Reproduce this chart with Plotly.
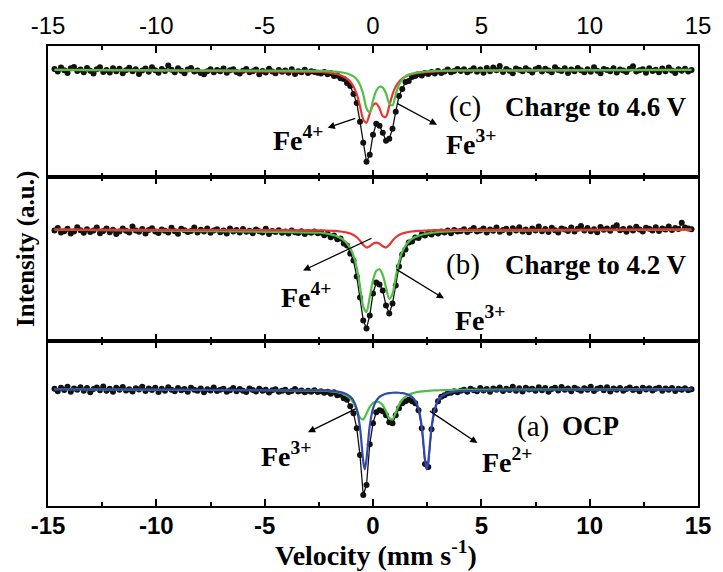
import numpy as np
import plotly.graph_objects as go

# Mössbauer channel velocities (mm/s)
VEL = np.linspace(-14.7, 14.7, 197)
# velocities at which the fitted sub-spectra are tabulated
FIT_V = np.linspace(-2.4, 3.9, 43)
EDGE_V = [-14.7, 14.7]

TICKS = [-15, -10, -5, 0, 5, 10, 15]
TICK_TEXT = ["-15", "-10", "-5", "0", "5", "10", "15"]
MINOR_TICKS = [-12.5, -7.5, -2.5, 2.5, 7.5, 12.5]

# (c) charged to 4.6 V - relative transmission (%)
TRANS_C = [
    100.05, 99.92, 100.12, 99.98, 99.85, 100.08, 100.15, 99.95, 100.02, 99.88,
    100.10, 99.96, 99.82, 100.04, 100.13, 99.90, 100.00, 99.87, 100.09, 99.94,
    100.06, 99.84, 99.99, 100.11, 99.93, 100.03, 99.80, 99.97, 100.07, 99.91,
    100.14, 99.98, 99.86, 100.05, 99.95, 100.22, 100.01, 99.89, 100.08, 99.96,
    99.83, 100.02, 100.10, 99.92, 99.97, 99.85, 99.78, 99.93, 100.04, 99.88,
    100.00, 99.94, 100.07, 99.86, 99.99, 100.03, 99.90, 99.82, 99.96, 100.05,
    99.89, 99.93, 100.02, 99.79, 99.95, 99.87, 100.06, 99.92, 99.84, 100.00,
    99.91, 99.97, 99.86, 100.03, 99.80, 99.94, 99.88, 100.01, 99.85, 99.93,
    99.90, 99.86,
    99.82, 99.90, 99.78, 99.85, 99.70, 99.72, 99.58, 99.55, 99.35, 99.20,
    98.80, 98.35, 97.40, 96.35, 95.40, 95.75, 96.75, 97.30, 97.20, 96.85,
    96.45, 96.55, 97.05, 97.90, 98.70, 99.05, 99.40, 99.45, 99.65, 99.70,
    99.80, 99.72, 99.85, 99.80, 99.90, 99.82, 99.95, 99.85, 99.92, 100.02,
    99.88, 99.95, 100.05,
    99.95, 100.04, 99.88, 99.97, 100.08, 99.91, 100.02, 99.86, 100.10, 99.94,
    100.12, 99.99, 100.20, 99.90, 100.05, 99.96, 99.84, 100.07, 100.01, 99.93,
    100.09, 99.98, 99.87, 100.03, 100.11, 99.92, 100.06, 99.97, 99.89, 100.14,
    100.00, 99.95, 100.08, 99.85, 100.02, 99.93, 100.10, 99.99, 99.88, 100.04,
    99.91, 100.13, 99.96, 99.83, 100.05, 100.00, 99.94, 100.09, 99.87, 100.02,
    99.97, 99.90, 100.06, 100.18, 99.92, 99.99, 100.04, 99.86, 100.08, 99.95,
    100.01, 99.89, 100.07, 99.93, 100.12, 99.97, 99.85, 100.03, 99.96, 100.06,
    99.92, 100.00,
]

# (b) charged to 4.2 V
TRANS_B = [
    99.95, 100.08, 99.86, 99.92, 100.04, 99.80, 99.90, 100.12, 99.97, 99.84,
    100.02, 99.88, 99.95, 100.10, 99.82, 99.93, 100.05, 99.87, 99.99, 99.78,
    99.91, 100.06, 99.94, 99.85, 100.15, 99.96, 99.89, 100.03, 99.81, 99.98,
    100.07, 99.90, 99.83, 100.01, 99.94, 99.86, 100.09, 99.92, 99.79, 100.04,
    99.97, 99.88, 99.93, 100.11, 99.85, 99.99, 99.90, 100.05, 99.84, 99.95,
    100.02, 99.87, 99.96, 99.80, 100.06, 99.91, 99.98, 99.85, 100.03, 99.89,
    99.94, 99.82, 100.00, 99.92, 99.86, 100.04, 99.78, 99.93, 99.88, 99.97,
    99.84, 99.91, 99.80, 99.95, 99.87, 99.83, 99.92, 99.78, 99.88, 99.84,
    99.90, 99.82,
    99.85, 99.72, 99.80, 99.62, 99.70, 99.52, 99.55, 99.30, 99.20, 98.80,
    98.45, 97.65, 96.60, 95.45, 95.05, 95.70, 96.80, 97.35, 97.25, 96.95,
    96.20, 95.80, 96.30, 97.20, 98.15, 98.75, 99.00, 99.35, 99.40, 99.60,
    99.58, 99.75, 99.70, 99.82, 99.75, 99.88, 99.80, 99.90, 99.85, 99.95,
    99.82, 99.98, 99.90,
    99.93, 100.02, 99.88, 99.97, 100.08, 99.90, 99.96, 100.05, 99.86, 100.01,
    99.94, 100.10, 99.89, 99.98, 100.04, 99.84, 100.07, 99.95, 100.12, 99.91,
    100.00, 99.87, 100.06, 99.96, 100.15, 99.92, 100.03, 99.88, 100.09, 99.97,
    99.85, 100.05, 100.01, 99.93, 100.11, 99.90, 100.04, 100.18, 99.96, 100.08,
    99.92, 100.02, 99.87, 100.13, 99.99, 100.06, 99.94, 100.10, 100.22, 99.97,
    100.03, 99.89, 100.07, 99.95, 100.14, 100.00, 99.91, 100.09, 100.04, 99.96,
    100.12, 99.93, 100.06, 100.01, 100.16, 99.98, 100.08, 100.03, 100.35, 100.10,
    100.05, 100.02,
]

# (a) open-circuit potential
TRANS_A = [
    100.02, 99.90, 100.08, 99.96, 100.12, 99.88, 100.04, 99.98, 100.10, 99.93,
    100.06, 99.85, 100.01, 100.09, 99.95, 100.14, 99.92, 100.03, 99.87, 100.07,
    99.97, 100.11, 99.94, 100.00, 99.89, 100.05, 99.99, 100.13, 99.91, 100.04,
    99.96, 100.08, 99.86, 100.02, 99.93, 100.10, 99.98, 99.90, 100.06, 99.95,
    100.01, 99.88, 100.07, 99.97, 99.92, 100.04, 99.85, 100.00, 99.94, 100.09,
    99.91, 99.98, 100.03, 99.87, 99.95, 100.06, 99.90, 100.01, 99.93, 99.86,
    100.04, 99.96, 99.89, 100.02, 99.92, 99.98, 99.84, 99.95, 100.00, 99.88,
    99.93, 99.97, 99.86, 99.91, 100.01, 99.89, 99.94, 99.85, 99.92, 99.88,
    99.95, 99.86,
    99.90, 99.82, 99.88, 99.78, 99.85, 99.70, 99.72, 99.55, 99.48, 99.15,
    98.80, 98.05, 96.70, 94.70, 95.20, 97.25, 98.30, 98.85, 98.95, 98.90,
    98.70, 98.35, 98.30, 98.70, 99.05, 99.30, 99.40, 99.48, 99.40, 99.30,
    98.95, 98.05, 96.25, 96.10, 98.00, 98.95, 99.40, 99.62, 99.70, 99.80,
    99.82, 99.90, 99.85,
    99.92, 99.98, 99.88, 100.03, 99.95, 99.90, 100.06, 99.94, 100.01, 99.87,
    100.04, 99.97, 100.09, 99.91, 100.02, 99.96, 100.12, 99.93, 100.05, 99.89,
    100.08, 99.99, 100.03, 99.92, 100.10, 99.95, 100.06, 99.88, 100.01, 100.07,
    99.94, 100.11, 99.97, 100.04, 99.90, 100.08, 100.00, 99.93, 100.05, 99.97,
    100.13, 99.91, 100.02, 100.07, 99.95, 100.10, 99.89, 100.04, 99.98, 100.06,
    99.93, 100.01, 100.09, 99.96, 100.03, 99.90, 100.07, 99.99, 100.05, 99.94,
    100.02, 100.08, 99.92, 100.04, 99.97, 100.06, 99.91, 100.03, 99.98, 100.05,
    99.95, 100.00,
]

# fitted sub-spectra: absorption depth (%) at FIT_V
FE4_C = [0.098, 0.112, 0.129, 0.151, 0.180, 0.216, 0.266, 0.336, 0.436, 0.587,
         0.825, 1.213, 1.811, 2.480, 2.636, 2.185, 1.771, 1.679, 1.918, 2.319,
         2.341, 1.800, 1.222, 0.830, 0.587, 0.433, 0.333, 0.264, 0.214, 0.178,
         0.150, 0.127, 0.111, 0.096, 0.085, 0.076, 0.068, 0.061, 0.055, 0.050,
         0.046, 0.042, 0.039]
FE3_C = [0.045, 0.052, 0.059, 0.068, 0.080, 0.095, 0.115, 0.142, 0.181, 0.238,
         0.326, 0.474, 0.738, 1.221, 1.921, 2.120, 1.530, 1.038, 0.842, 0.881,
         1.171, 1.672, 1.773, 1.225, 0.742, 0.471, 0.320, 0.232, 0.176, 0.138,
         0.111, 0.092, 0.078, 0.066, 0.057, 0.049, 0.044, 0.040, 0.035, 0.031,
         0.028, 0.026, 0.023]
FE4_B = [0.037, 0.043, 0.048, 0.056, 0.066, 0.079, 0.096, 0.119, 0.151, 0.198,
         0.270, 0.382, 0.552, 0.765, 0.898, 0.834, 0.704, 0.650, 0.704, 0.834,
         0.898, 0.765, 0.552, 0.382, 0.270, 0.198, 0.151, 0.119, 0.096, 0.079,
         0.066, 0.056, 0.048, 0.043, 0.037, 0.033, 0.029, 0.026, 0.023, 0.021,
         0.019, 0.017, 0.016]
FE3_B = [0.156, 0.178, 0.207, 0.241, 0.286, 0.345, 0.423, 0.533, 0.692, 0.931,
         1.305, 1.906, 2.827, 3.862, 4.131, 3.375, 2.535, 2.070, 1.990, 2.276,
         2.896, 3.469, 3.224, 2.367, 1.610, 1.112, 0.801, 0.601, 0.467, 0.374,
         0.306, 0.256, 0.218, 0.187, 0.163, 0.143, 0.127, 0.113, 0.102, 0.092,
         0.084, 0.076, 0.070]
FE2_A = [0.050, 0.057, 0.067, 0.079, 0.095, 0.115, 0.146, 0.190, 0.257, 0.369,
         0.573, 0.988, 1.920, 3.615, 3.508, 1.835, 0.964, 0.574, 0.384, 0.284,
         0.224, 0.192, 0.175, 0.168, 0.175, 0.192, 0.224, 0.284, 0.384, 0.574,
         0.964, 1.843, 3.515, 3.620, 1.924, 0.990, 0.576, 0.371, 0.259, 0.191,
         0.146, 0.115, 0.095]
# the narrow Fe2+ lines are also tabulated at their centres
FE2_A_LINE_V = [-0.38, 2.48]
FE2_A_LINE = [4.02, 4.02]
FE3_A = [0.065, 0.074, 0.086, 0.102, 0.123, 0.151, 0.189, 0.246, 0.331, 0.466,
         0.685, 1.026, 1.420, 1.519, 1.216, 0.883, 0.687, 0.616, 0.651, 0.802,
         1.093, 1.445, 1.506, 1.163, 0.784, 0.527, 0.369, 0.270, 0.206, 0.162,
         0.131, 0.108, 0.091, 0.078, 0.067, 0.059, 0.052, 0.047, 0.042, 0.038,
         0.035, 0.032, 0.029]

GREEN = "#4fbf45"
RED = "#e8352f"
BLUE = "#3347b0"
DOT = "#111111"

SERIF = "Liberation Serif"
SANS = "Liberation Sans"


def data_trace(values, xaxis, yaxis):
    return go.Scatter(x=VEL, y=values, mode="lines+markers", xaxis=xaxis, yaxis=yaxis,
                      line=dict(color=DOT, width=1.3),
                      marker=dict(color=DOT, size=6), hoverinfo="skip")


def fit_trace(depth, color, xaxis, yaxis, extra_v=(), extra_d=()):
    pts = list(zip(FIT_V, depth)) + list(zip(extra_v, extra_d))
    pts.sort(key=lambda p: p[0])
    xs = [EDGE_V[0]] + [p[0] for p in pts] + [EDGE_V[1]]
    ys = [100.0] + [100.0 - p[1] for p in pts] + [100.0]
    return go.Scatter(x=xs, y=ys, mode="lines", xaxis=xaxis, yaxis=yaxis,
                      line=dict(color=color, width=2.2, shape="spline", smoothing=0.8),
                      hoverinfo="skip")


fig = go.Figure()
# top panel (c)
fig.add_trace(data_trace(TRANS_C, "x3", "y3"))
fig.add_trace(fit_trace(FE4_C, RED, "x3", "y3"))
fig.add_trace(fit_trace(FE3_C, GREEN, "x3", "y3"))
# middle panel (b)
fig.add_trace(data_trace(TRANS_B, "x2", "y2"))
fig.add_trace(fit_trace(FE3_B, GREEN, "x2", "y2"))
fig.add_trace(fit_trace(FE4_B, RED, "x2", "y2"))
# bottom panel (a)
fig.add_trace(data_trace(TRANS_A, "x", "y"))
fig.add_trace(fit_trace(FE3_A, GREEN, "x", "y"))
fig.add_trace(fit_trace(FE2_A, BLUE, "x", "y", FE2_A_LINE_V, FE2_A_LINE))

x_common = dict(range=[-15, 15], tickmode="array", tickvals=TICKS,
                ticks="inside", ticklen=7, tickwidth=1.5, tickcolor="black",
                showline=True, linecolor="black", linewidth=2, mirror="ticks",
                showgrid=False, zeroline=False,
                minor=dict(tickmode="array", tickvals=MINOR_TICKS, ticks="inside",
                           ticklen=4, tickwidth=1.5, tickcolor="black", showgrid=False))
y_common = dict(showline=True, linecolor="black", linewidth=2, mirror=True,
                ticks="", showticklabels=False, showgrid=False, zeroline=False)

fig.update_layout(
    width=723, height=572,
    margin=dict(l=48, r=15, t=45, b=66),
    paper_bgcolor="white", plot_bgcolor="white",
    showlegend=False,
    xaxis=dict(**x_common, anchor="y", ticktext=[f"<b>{t}</b>" for t in TICK_TEXT],
               ticklabelstandoff=-3,
               tickfont=dict(family=SANS, size=24, color="black")),
    xaxis2=dict(**x_common, anchor="y2", matches="x", showticklabels=False),
    xaxis3=dict(**x_common, anchor="y3", matches="x", side="top", ticktext=TICK_TEXT,
                tickfont=dict(family=SANS, size=24, color="black")),
    yaxis=dict(**y_common, domain=[0, 0.3579], range=[94.15, 102.4]),
    yaxis2=dict(**y_common, domain=[0.3579, 0.7158], range=[94.4, 102.65]),
    yaxis3=dict(**y_common, domain=[0.7158, 1.0], range=[94.65, 101.2]),
)

ann = []


def label(text, x, y, size=28, anchor="center", bold=True):
    ann.append(dict(text=f"<b>{text}</b>" if bold else text, x=x, y=y, xref="paper", yref="paper",
                    xanchor=anchor, yanchor="middle", showarrow=False,
                    font=dict(family=SERIF, size=size, color="black")))


def arrow(x, y, ax, ay):
    ann.append(dict(text="", x=x, y=y, xref="paper", yref="paper", ax=ax, ay=ay,
                    showarrow=True, arrowhead=2, arrowsize=1.1, arrowwidth=1.3,
                    arrowcolor="black", standoff=0))


# panel captions
label("(c)", 0.6136, 0.8677, size=29, anchor="left", bold=False)
label("Charge to 4.6 V", 0.700, 0.8677, size=27, anchor="left")
label("(b)", 0.6091, 0.525, size=29, anchor="left", bold=False)
label("Charge to 4.2 V", 0.700, 0.525, size=27, anchor="left")
label("(a)", 0.7182, 0.1735, size=29, anchor="left", bold=False)
label("OCP", 0.7879, 0.1735, size=27, anchor="left")

# iron site labels and pointers
label("Fe<sup>4+</sup>", 0.3850, 0.7983)
arrow(0.4303, 0.8221, 29, -10)
label("Fe<sup>3+</sup>", 0.6515, 0.7896)
arrow(0.5985, 0.8286, -41, -22)
label("Fe<sup>4+</sup>", 0.3970, 0.4577)
arrow(0.3924, 0.5119, 70, -33)
label("Fe<sup>3+</sup>", 0.6650, 0.4078)
arrow(0.6091, 0.4512, -49, -30)
label("Fe<sup>3+</sup>", 0.3665, 0.1128)
arrow(0.4000, 0.1605, 49, -24)
label("Fe<sup>2+</sup>", 0.7070, 0.0998)
arrow(0.6606, 0.1367, -49, -33)

# axis titles
ann.append(dict(text="<b>Intensity (a.u.)</b>", x=-0.0348, y=0.5597, xref="paper", yref="paper",
                textangle=-90, showarrow=False, xanchor="center", yanchor="middle",
                font=dict(family=SERIF, size=25, color="black")))
ann.append(dict(text="<b>Velocity (mm s<sup>-1</sup>)</b>", x=0.5045, y=-0.104,
                xref="paper", yref="paper", showarrow=False, xanchor="center", yanchor="middle",
                font=dict(family=SERIF, size=28, color="black")))

fig.update_layout(annotations=ann)
fig.write_html("out.html")
